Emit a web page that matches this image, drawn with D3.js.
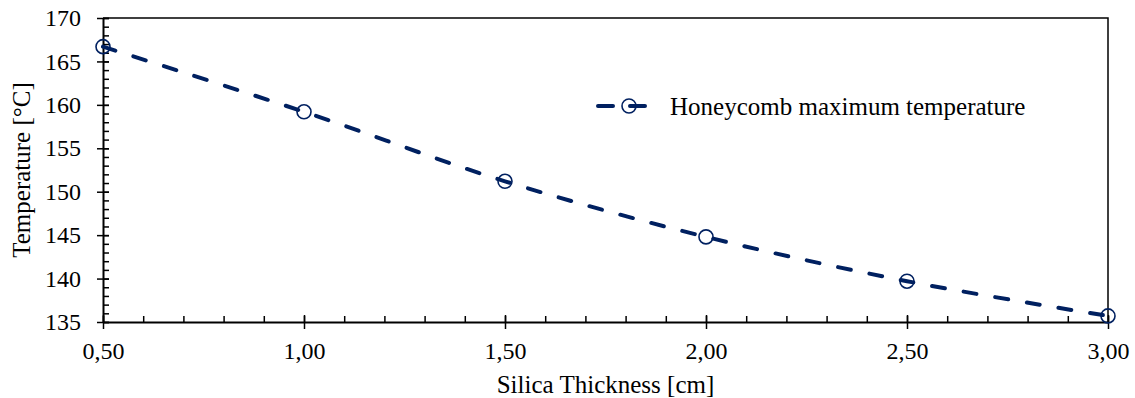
<!DOCTYPE html>
<html>
<head>
<meta charset="utf-8">
<script src="https://cdn.jsdelivr.net/npm/d3@7"></script>
<style>
  body { margin: 0; background: #ffffff; }
</style>
</head>
<body>
<div id="chart"></div>
<script>
//
// Honeycomb maximum temperature vs silica thickness
//

var thickness = [0.5, 1.0, 1.5, 2.0, 2.5, 3.0];
var max_temp = [166.7, 159.2, 151.2, 144.8, 139.7, 135.7];
var x_ticks = [0.5, 1.0, 1.5, 2.0, 2.5, 3.0];
var y_ticks = [135, 140, 145, 150, 155, 160, 165, 170];
var series_name = "Honeycomb maximum temperature";

var line_color = "#002060";
var font = "'Liberation Serif', 'DejaVu Serif', serif";

var total_width = 1135,
    total_height = 398;

var margin = {top: 18, right: 27, bottom: 76, left: 103},
    width = total_width - margin.left - margin.right,
    height = total_height - margin.top - margin.bottom;

var points = thickness.map(function(t, i) { return {x: t, y: max_temp[i]}; });

var svg = d3.select("#chart").append("svg")
    .attr("width", total_width)
    .attr("height", total_height)
  .append("g")
    .attr("transform", "translate(" + margin.left + "," + margin.top + ")");

var x = d3.scaleLinear()
    .domain([0.5, 3.0])
    .range([0, width]);

var y = d3.scaleLinear()
    .domain([135, 170])
    .range([height, 0]);

// border (top + right)
svg.append("path")
    .attr("d", "M0,0H" + width + "V" + height)
    .attr("fill", "none")
    .attr("stroke", "#000")
    .attr("stroke-width", 1.5);

// minor ticks
var x_minor = d3.range(5, 31).map(function(d) { return d / 10; });
svg.append("g")
    .attr("transform", "translate(0," + height + ")")
    .call(d3.axisBottom(x).tickValues(x_minor).tickSize(-6).tickFormat(""))
    .call(function(g) { g.select(".domain").remove(); })
    .selectAll("line").attr("stroke-width", 1.5);

var y_minor = d3.range(135, 171);
svg.append("g")
    .call(d3.axisLeft(y).tickValues(y_minor).tickSize(-6).tickFormat(""))
    .call(function(g) { g.select(".domain").remove(); })
    .selectAll("line").attr("stroke-width", 1.5);

// major axes
var xAxis = svg.append("g")
    .attr("transform", "translate(0," + height + ")")
    .call(d3.axisBottom(x).tickValues(x_ticks).tickSize(7).tickSizeOuter(0).tickPadding(13)
      .tickFormat(function(d) { return d3.format(".2f")(d).replace(".", ","); }));
xAxis.select(".domain").attr("stroke-width", 2);
xAxis.selectAll(".tick line").attr("y1", -7).attr("stroke-width", 1.5);
xAxis.selectAll("text").style("font-size", "24px").style("font-family", font).attr("fill", "#000");

var yAxis = svg.append("g")
    .call(d3.axisLeft(y).tickValues(y_ticks).tickSize(6).tickSizeOuter(0).tickPadding(16));
yAxis.select(".domain").attr("stroke-width", 2);
yAxis.selectAll(".tick line").attr("x1", 6).attr("x2", -6).attr("stroke-width", 1.5);
yAxis.selectAll("text").style("font-size", "24px").style("font-family", font).attr("fill", "#000");

// Labels
svg.append("text")
    .attr("text-anchor", "middle")
    .attr("x", width / 2)
    .attr("y", height + 71)
    .style("font-size", "25px")
    .style("font-family", font)
    .text("Silica Thickness [cm]");

svg.append("text")
    .attr("text-anchor", "middle")
    .attr("transform", "rotate(-90)")
    .attr("x", -height / 2)
    .attr("y", -73)
    .style("font-size", "25px")
    .style("font-family", font)
    .text("Temperature [\u00B0C]");

// series
svg.append("path")
    .datum(points)
    .attr("fill", "none")
    .attr("stroke", line_color)
    .attr("stroke-width", 4)
    .attr("stroke-linecap", "round")
    .attr("stroke-dasharray", "13,19")
    .attr("d", d3.line()
      .x(function(d) { return x(d.x); })
      .y(function(d) { return y(d.y); })
      .curve(d3.curveCatmullRom.alpha(0.5))
    );

svg.append("g")
    .selectAll("circle")
    .data(points)
    .enter()
    .append("circle")
      .attr("cx", function(d) { return x(d.x); })
      .attr("cy", function(d) { return y(d.y); })
      .attr("r", 7)
      .attr("fill", "none")
      .attr("stroke", line_color)
      .attr("stroke-width", 1.6);

// legend
var legend = svg.append("g")
    .attr("transform", "translate(" + (596 - margin.left) + "," + (106 - margin.top) + ")");

legend.append("line")
    .attr("x1", 2).attr("x2", 52)
    .attr("y1", 0).attr("y2", 0)
    .attr("stroke", line_color)
    .attr("stroke-width", 4)
    .attr("stroke-linecap", "round")
    .attr("stroke-dasharray", "15,17");

legend.append("circle")
    .attr("cx", 33)
    .attr("cy", 0)
    .attr("r", 7)
    .attr("fill", "none")
    .attr("stroke", line_color)
    .attr("stroke-width", 1.6);

legend.append("text")
    .attr("x", 74)
    .attr("y", 9)
    .style("font-size", "25px")
    .style("font-family", font)
    .text(series_name);
</script>
</body>
</html>
